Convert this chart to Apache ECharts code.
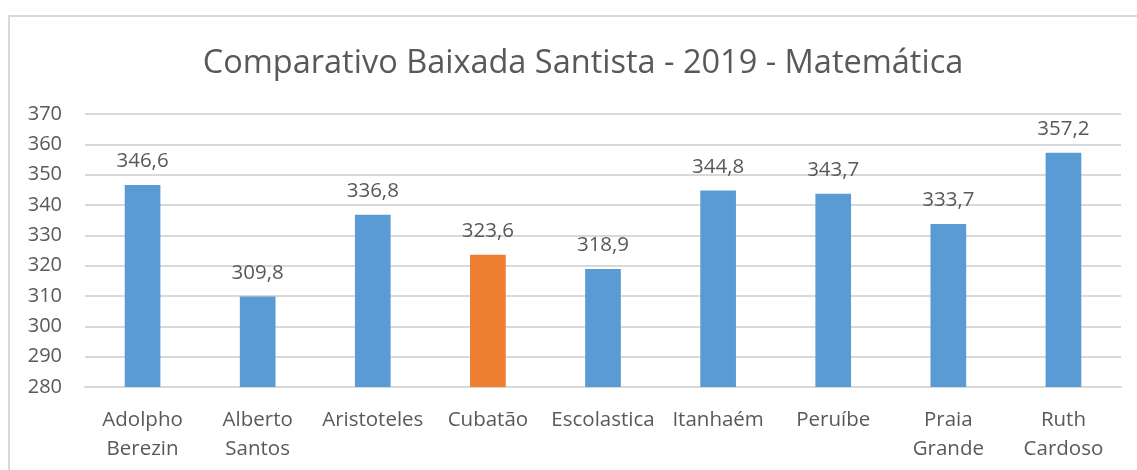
<!DOCTYPE html>
<html>
<head>
<meta charset="utf-8">
<script src="https://cdn.jsdelivr.net/npm/echarts@6/dist/echarts.min.js"></script>
<style>
  html, body { margin: 0; padding: 0; background: #fff; }
  #frame { position: absolute; left: 8px; top: 15px; width: 1140px; height: 470px; border: 2px solid #d9d9d9; box-sizing: border-box; }
  #chart { position: absolute; left: 0; top: 0; width: 1137px; height: 470px; }
</style>
</head>
<body>
<div id="frame"></div>
<div id="chart"></div>
<script>
// Escolas comparadas e notas médias de Matemática (2019)
const categories = ['Adolpho\nBerezin', 'Alberto\nSantos', 'Aristoteles', 'Cubatão', 'Escolastica', 'Itanhaém', 'Peruíbe', 'Praia\nGrande', 'Ruth\nCardoso'];
const scores = [346.6, 309.8, 336.8, 323.6, 318.9, 344.8, 343.7, 333.7, 357.2];
const highlighted = 'Cubatão';
const yTicks = { min: 280, max: 370, step: 10 };

const BLUE = '#5b9bd5';
const ORANGE = '#ed7d31';
const TEXT = '#595959';
const FONT = '"Open Sans", "Noto Sans", sans-serif';

const chart = echarts.init(document.getElementById('chart'), null, { renderer: 'canvas' });
chart.setOption({
  animation: false,
  title: {
    text: 'Comparativo Baixada Santista - 2019 - Matemática',
    left: 578,
    textAlign: 'center',
    top: 42,
    textStyle: { fontFamily: FONT, fontSize: 32.5, fontWeight: 'normal', color: TEXT }
  },
  grid: { left: 85, right: 16, top: 114, bottom: 83, containLabel: false },
  xAxis: {
    type: 'category',
    data: categories,
    axisLine: { lineStyle: { color: '#d9d9d9', width: 2 } },
    axisTick: { show: false },
    axisLabel: { color: TEXT, fontFamily: FONT, fontSize: 20.5, lineHeight: 29, margin: 19, interval: 0 }
  },
  yAxis: {
    type: 'value',
    min: yTicks.min,
    max: yTicks.max,
    interval: yTicks.step,
    axisLine: { show: false },
    axisTick: { show: false },
    axisLabel: { color: TEXT, fontFamily: FONT, fontSize: 20, margin: 23 },
    splitLine: { lineStyle: { color: '#d9d9d9', width: 2 } }
  },
  series: [{
    type: 'bar',
    barWidth: '31%',
    data: scores.map((v, i) => ({
      value: v,
      itemStyle: { color: categories[i] === highlighted ? ORANGE : BLUE }
    })),
    label: {
      show: true,
      position: 'top',
      distance: 13,
      color: TEXT,
      fontFamily: FONT,
      fontSize: 20.5,
      formatter: p => p.value.toFixed(1).replace('.', ',')
    }
  }]
});
</script>
</body>
</html>
